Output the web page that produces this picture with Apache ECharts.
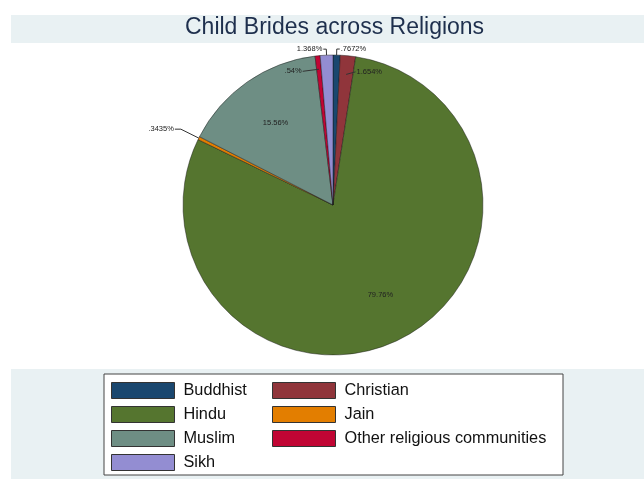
<!DOCTYPE html>
<html>
<head>
<meta charset="utf-8">
<script src="https://cdn.jsdelivr.net/npm/echarts@6/dist/echarts.min.js"></script>
<style>
html,body{margin:0;padding:0;background:#ffffff;}
#chart{width:644px;height:479px;}
</style>
</head>
<body>
<div id="chart"></div>
<script>
// ---- data ----
const categories = ['Buddhist', 'Christian', 'Hindu', 'Jain', 'Muslim', 'Other religious communities', 'Sikh'];
const shares = [0.7672, 1.654, 79.76, 0.3435, 15.56, 0.54, 1.368];
const colors = ['#1a476f', '#90353b', '#55752f', '#e37e00', '#6e8e84', '#c10534', '#938dd2'];
const legendCol1 = ['Buddhist', 'Hindu', 'Muslim', 'Sikh'];
const legendCol2 = ['Christian', 'Jain', 'Other religious communities'];
const titleText = 'Child Brides across Religions';

// ---- layout ----
const CX = 333, CY = 205, R = 150;
const FONT = 'Arial, "Liberation Sans", Helvetica, sans-serif';
// label placement tweaks: radius fraction and angular shift (deg) from slice middle
const labelAdjust = {
  'Christian': {rf: 0.92, da: 9.5, line: 0.875},
  'Other religious communities': {rf: 0.93, da: -10.7, line: 0.91},
  'Hindu': {rf: 0.68, da: 0},
  'Muslim': {rf: 0.67, da: 0}
};
const outsideLine = {
  'Buddhist': {length: 6, length2: 3},
  'Sikh': {length: 6, length2: 3},
  'Jain': {length: 20, length2: 6}
};

const total = shares.reduce((a, b) => a + b, 0);
const midAngles = [];
(function () {
  let cum = 0;
  shares.forEach(v => { midAngles.push((cum + v / 2) / total * 360); cum += v; });
})();

function fmt(v) { return String(v).replace(/^0\./, '.') + '%'; }

const sliceData = categories.map((name, i) => ({
  name: name, value: shares[i], itemStyle: {color: colors[i]}
}));

const labelData = categories.map((name, i) => {
  const item = {name: name, value: shares[i]};
  if (outsideLine[name]) {
    item.labelLine = {show: true, length: outsideLine[name].length, length2: outsideLine[name].length2};
  } else if (name === 'Hindu' || name === 'Muslim') {
    item.labelLine = {show: false};
  } else {
    item.labelLine = {show: true, length: 4, length2: 2};
  }
  return item;
});

const chart = echarts.init(document.getElementById('chart'), null, {renderer: 'canvas'});

const legendCommon = {
  orient: 'vertical',
  top: 382,
  itemWidth: 63,
  itemHeight: 16,
  itemGap: 7,
  padding: 0,
  icon: 'rect',
  selectedMode: false,
  itemStyle: {borderColor: '#333333', borderWidth: 1},
  textStyle: {fontFamily: FONT, fontSize: 16.3, color: '#111111', lineHeight: 16, padding: [0, 0, 0, 4]}
};

chart.setOption({
  animation: false,
  backgroundColor: '#ffffff',
  color: colors,
  graphic: [
    {type: 'rect', z: -10, shape: {x: 11, y: 15, width: 633, height: 464}, style: {fill: '#e9f1f3'}, silent: true},
    {type: 'rect', z: -9, shape: {x: 11, y: 43, width: 633, height: 326}, style: {fill: '#ffffff'}, silent: true},
    {type: 'rect', z: -8, shape: {x: 104, y: 374, width: 459, height: 101}, style: {fill: '#ffffff', stroke: '#444444', lineWidth: 1}, silent: true}
  ],
  title: {
    text: titleText,
    left: 185,
    top: 16,
    padding: 0,
    textStyle: {fontFamily: FONT, fontSize: 23, fontWeight: 'normal', color: '#1e2f4d'}
  },
  legend: [
    Object.assign({}, legendCommon, {left: 111, data: legendCol1}),
    Object.assign({}, legendCommon, {left: 272, data: legendCol2})
  ],
  series: [{
    type: 'pie',
    z: 2,
    center: [CX, CY],
    radius: [0, R],
    startAngle: 90,
    clockwise: true,
    silent: true,
    itemStyle: {borderColor: 'rgba(20,20,20,0.75)', borderWidth: 0.6},
    label: {show: false},
    labelLine: {show: false},
    data: sliceData
  }, {
    // label layer drawn above the slices
    type: 'pie',
    z: 3,
    center: [CX, CY],
    radius: [0, R],
    startAngle: 90,
    clockwise: true,
    avoidLabelOverlap: false,
    silent: true,
    itemStyle: {color: 'rgba(0,0,0,0)', borderWidth: 0},
    label: {
      show: true,
      position: 'outside',
      fontFamily: FONT,
      fontSize: 7.5,
      color: '#222222',
      distanceToLabelLine: 1,
      formatter: p => fmt(p.value)
    },
    labelLine: {show: true, lineStyle: {color: '#333333', width: 1}},
    labelLayout: function (p) {
      const name = categories[p.dataIndex];
      const adj = labelAdjust[name];
      if (!adj) return {};
      const a = (midAngles[p.dataIndex] + adj.da) * Math.PI / 180;
      const r = adj.rf * R;
      const lx = CX + r * Math.sin(a);
      const ly = CY - r * Math.cos(a);
      const out = {x: lx, y: ly, align: 'center', verticalAlign: 'middle'};
      if (adj.line) {
        const m = midAngles[p.dataIndex] * Math.PI / 180;
        const sx = CX + adj.line * R * Math.sin(m);
        const sy = CY - adj.line * R * Math.cos(m);
        const hw = p.labelRect.width / 2 + 1;
        const ex = adj.da > 0 ? lx - hw : lx + hw;
        out.labelLinePoints = [[sx, sy], [ex, ly]];
      }
      return out;
    },
    data: labelData
  }]
});
</script>
</body>
</html>
